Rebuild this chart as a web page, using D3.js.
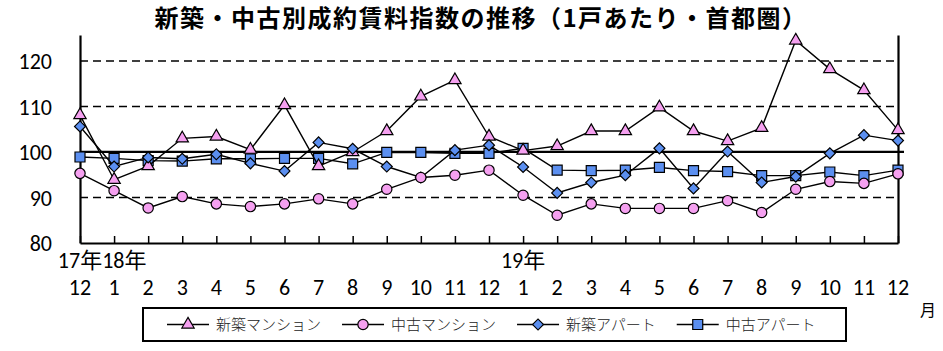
<!DOCTYPE html>
<html lang="ja">
<head>
<meta charset="UTF-8">
<title>新築・中古別成約賃料指数の推移</title>
<script src="https://d3js.org/d3.v7.min.js"></script>
<style>
    body { margin: 0; padding: 0; background: #fff; }
    svg { display: block; }
    .num { font-family: Carlito, Lato, "Noto Sans CJK JP", sans-serif; font-size: 22px; fill: #000; }
    .legend-text { font-family: "Noto Sans CJK JP", sans-serif; font-size: 15px; fill: #222; font-weight: 300; }
</style>
</head>
<body>
<svg id="chart" width="943" height="351"></svg>
<script>
    // month labels (2017/12 .. 2019/12)
    const months = ["12","1","2","3","4","5","6","7","8","9","10","11","12",
                    "1","2","3","4","5","6","7","8","9","10","11","12"];
    // year labels: index into months
    const yearLabels = [{ i: 0, t: "17年" }, { i: 1, t: "18年" }, { i: 13, t: "19年" }];
    const yTicks = [80, 90, 100, 110, 120];

    const shinchikuMansion = [108.1, 93.9, 96.9, 103.0, 103.4, 100.5, 110.3, 96.9, 100.0, 104.6, 112.2, 115.8,
                              103.4, 100.3, 101.3, 104.6, 104.6, 109.8, 104.6, 102.4, 105.3, 124.5, 118.2, 113.6, 104.8];
    const chukoMansion = [95.3, 91.5, 87.7, 90.2, 88.6, 88.0, 88.6, 89.7, 88.6, 91.8, 94.4, 94.9,
                          96.0, 90.5, 86.1, 88.6, 87.6, 87.6, 87.6, 89.3, 86.7, 91.8, 93.5, 93.1, 95.2];
    const shinchikuApart = [105.6, 96.8, 98.8, 98.5, 99.5, 97.5, 95.8, 102.1, 100.7, 96.8, 94.4, 100.4,
                            101.5, 96.7, 91.0, 93.3, 94.9, 100.8, 92.0, 100.1, 93.3, 94.6, 99.7, 103.7, 102.5];
    const chukoApart = [98.9, 98.6, 98.1, 98.0, 98.5, 98.5, 98.6, 98.6, 97.4, 99.9, 99.9, 99.7,
                        99.7, 100.8, 96.0, 95.9, 96.0, 96.6, 95.9, 95.7, 94.8, 94.8, 95.6, 94.8, 96.0];

    const pink = "#f5a0f0";
    const blue = "#5b8ff0";

    const series = [
        { name: "新築マンション", values: shinchikuMansion, shape: "triangle", fill: pink },
        { name: "中古マンション", values: chukoMansion, shape: "circle", fill: pink },
        { name: "新築アパート", values: shinchikuApart, shape: "diamond", fill: blue },
        { name: "中古アパート", values: chukoApart, shape: "square", fill: blue }
    ];
    // drawing order (bottom to top)
    const drawOrder = [3, 0, 2, 1];

    const svg = d3.select("#chart");
    const plot = { left: 80, right: 898, top: 35, bottom: 243 };

    const x = d3.scalePoint()
        .domain(d3.range(months.length))
        .range([plot.left, plot.right]);
    const y = d3.scaleLinear()
        .domain([80, 125.7])
        .range([plot.bottom, plot.top]);

    // marker path generator
    function marker(shape) {
        if (shape === "triangle") return d3.symbol(d3.symbolTriangle, 66)();
        if (shape === "circle") return d3.symbol(d3.symbolCircle, 84)();
        if (shape === "square") return d3.symbol(d3.symbolSquare, 100)();
        return d3.symbol(d3.symbolSquare, 60)(); // rotated later -> diamond
    }

    // title
    svg.append("text")
        .attr("x", 481)
        .attr("y", 27)
        .attr("text-anchor", "middle")
        .style("font-family", "'Noto Sans CJK JP', sans-serif")
        .style("font-weight", "bold")
        .style("font-size", "24px")
        .style("letter-spacing", "1.5px")
        .text("新築・中古別成約賃料指数の推移（1戸あたり・首都圏）");

    // dashed grid lines
    svg.append("g")
        .selectAll("line")
        .data([90, 110, 120])
        .enter().append("line")
        .attr("x1", plot.left)
        .attr("x2", plot.right)
        .attr("y1", d => y(d))
        .attr("y2", d => y(d))
        .attr("stroke", "#000")
        .attr("stroke-width", 1.6)
        .attr("stroke-dasharray", "8,5");

    // solid 100 line
    svg.append("line")
        .attr("x1", plot.left)
        .attr("x2", plot.right + 6)
        .attr("y1", y(100))
        .attr("y2", y(100))
        .attr("stroke", "#000")
        .attr("stroke-width", 2.2);

    // y axis (left)
    const yAxis = svg.append("g")
        .attr("transform", `translate(${plot.left},0)`)
        .call(d3.axisLeft(y).tickValues(yTicks).tickSize(0).tickPadding(28));
    yAxis.select(".domain").attr("stroke-width", 2.2);
    yAxis.selectAll("text").attr("class", "num").attr("font-family", null).attr("font-size", null)
        .attr("dy", "0.36em");

    // right border
    svg.append("g")
        .attr("transform", `translate(${plot.right},0)`)
        .call(d3.axisRight(y).tickValues([]).tickSizeOuter(0))
        .select(".domain").attr("stroke-width", 2.2);

    // x axis with inward ticks
    const xAxis = svg.append("g")
        .attr("transform", `translate(0,${plot.bottom})`)
        .call(d3.axisBottom(x).tickSizeInner(-7).tickSizeOuter(0).tickFormat(""));
    xAxis.select(".domain").attr("stroke-width", 2.2);
    xAxis.selectAll(".tick line").attr("stroke-width", 1.5);

    // month labels
    svg.append("g")
        .selectAll("text")
        .data(months)
        .enter().append("text")
        .attr("class", "num")
        .attr("x", (d, i) => x(i))
        .attr("y", 295)
        .attr("text-anchor", "middle")
        .text(d => d);

    // year labels; shift right where they would overlap the previous one
    let lastEnd = -Infinity;
    yearLabels.forEach(d => {
        const t = svg.append("text")
            .attr("class", "num")
            .attr("y", 268)
            .text(d.t);
        const w = t.node().getComputedTextLength();
        let start = x(d.i) - w / 2;
        if (start < lastEnd) start = lastEnd;
        t.attr("x", start);
        lastEnd = start + w;
    });

    // "月"
    svg.append("text")
        .attr("x", 920)
        .attr("y", 316)
        .style("font-family", "'Noto Sans CJK JP', sans-serif")
        .style("font-size", "16px")
        .text("月");

    // series lines and markers
    const line = d3.line()
        .x((d, i) => x(i))
        .y(d => y(d));

    drawOrder.forEach(k => {
        const s = series[k];
        const g = svg.append("g");
        g.append("path")
            .datum(s.values)
            .attr("d", line)
            .attr("fill", "none")
            .attr("stroke", "#000")
            .attr("stroke-width", 1.4);
        g.selectAll(".pt")
            .data(s.values)
            .enter().append("path")
            .attr("class", "pt")
            .attr("d", marker(s.shape))
            .attr("transform", (d, i) => `translate(${x(i)},${y(d)})` + (s.shape === "diamond" ? " rotate(45)" : ""))
            .attr("fill", s.fill)
            .attr("stroke", "#000")
            .attr("stroke-width", 1.2);
    });

    // legend
    const legend = svg.append("g");
    legend.append("rect")
        .attr("x", 143)
        .attr("y", 308)
        .attr("width", 703)
        .attr("height", 33)
        .attr("fill", "#fff")
        .attr("stroke", "#000")
        .attr("stroke-width", 2);

    let lx = 167;
    series.forEach(s => {
        const item = legend.append("g").attr("transform", `translate(${lx},324.5)`);
        item.append("line")
            .attr("x1", 0).attr("x2", 42)
            .attr("stroke", "#000").attr("stroke-width", 1.4);
        item.append("path")
            .attr("d", marker(s.shape))
            .attr("transform", "translate(21,0)" + (s.shape === "diamond" ? " rotate(45)" : ""))
            .attr("fill", s.fill)
            .attr("stroke", "#000")
            .attr("stroke-width", 1.2);
        const t = item.append("text")
            .attr("class", "legend-text")
            .attr("x", 49)
            .attr("y", 5.5)
            .text(s.name);
        lx += 49 + t.node().getComputedTextLength() + 21;
    });
</script>
</body>
</html>
